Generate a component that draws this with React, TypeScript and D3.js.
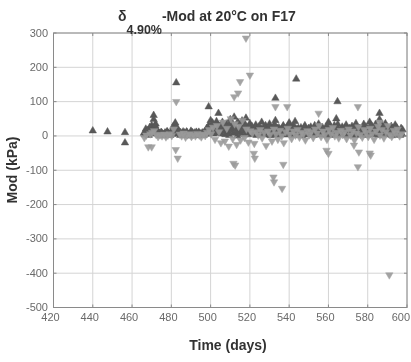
import React from "react";
import * as d3 from "d3";

// ---- Data ----
const xTicks = [420, 440, 460, 480, 500, 520, 540, 560, 580, 600];
const yTicks = [300, 200, 100, 0, -100, -200, -300, -400, -500];

// isolated early readings (dark, upward triangles)
const earlyDays = [440, 447.5, 456.4];
const earlyVals = [15, 12, 10];

// dense daily readings start at day 466
const denseStart = 466;
// dark (upward triangles), upper part of band
const darkA = [
  8, 20, 14, 25, 30, 48, 35, 12, 6, 10, 4, 8, 12, 6, 10,
  28, 38, 20, 8, 5, 12, 6, 10, 4, 14, 7, 9, 5, 11, 6, 8, 12,
  22, 30, 45, 38, 26, 42, 30, 25, 40, 18, 35, 22, 48, 30, 55, 20, 38, 26, 44, 30, 52, 24, 36,
  28, 18, 32, 22, 14, 40, 26, 30, 20, 35, 18, 28, 45, 22, 16, 20, 30, 12, 26, 38, 18, 28, 42, 20, 14, 24, 18, 30, 12, 22,
  26, 16, 30, 20, 35, 14, 24, 18, 28, 40, 22, 15, 30, 50, 20, 14, 26, 18, 32, 20, 12, 28, 24, 36, 18, 22, 14, 34, 26, 20,
  40, 28, 18, 34, 22, 48, 30, 20, 36, 24, 16, 28, 20, 32, 18, 12, 22,
];
// dark (upward triangles), lower part of band, half-day offsets
const darkB = [
  4, 10, 2, 12, 6, 18, 8, 3, 2, 6, 1, 4, 7, 2, 5,
  14, 10, 6, 2, 4, 1, 6, 3, 0, 5, 2, 4, 1, 6, 3, 2, 5,
  8, 12, 10, 6, 14, 9, 12, 6, 15, 4, 10, 2, 18, 8, 12, 0, 10, 5, 14, 3, 11, 6, 9,
  4, 8, 2, 10, 5, 12, 3, 8, 6, 1, 9, 4, 11, 2, 7, 5, 10, 3, 8, 6, 12, 2, 9, 4, 7, 1, 10, 5, 3, 8,
  6, 2, 9, 4, 11, 3, 7, 5, 1, 8, 4, 10, 2, 12, 6, 3, 9, 5, 1, 7, 4, 10, 2, 8, 6, 3, 11, 5, 2, 7,
  9, 4, 12, 6, 2, 14, 5, 8, 3, 10, 6, 1, 8, 4, 9, 2, 5,
];
// dark (upward triangles), middle of band, three-quarter-day offsets
const darkC = [
  12, 16, 8, 20, 22, 30, 18, 8, 10, 4, 9, 12, 5, 10, 7,
  22, 26, 12, 10, 7, 9, 12, 5, 8, 10, 6, 11, 8, 4, 9, 10, 7,
  16, 24, 30, 20, 34, 18, 25, 32, 20, 28, 14, 36, 24, 30, 16, 40, 22, 28, 18, 32, 20, 26, 14,
  18, 24, 14, 28, 20, 12, 22, 16, 26, 14, 20, 32, 16, 24, 10, 18, 22, 14, 30, 16, 20, 26, 12, 22, 18, 14, 24, 16, 20, 12,
  16, 22, 12, 26, 18, 24, 14, 20, 16, 30, 12, 22, 18, 34, 14, 20, 16, 24, 12, 22, 18, 14, 26, 16, 20, 12, 24, 18, 14, 22,
  30, 16, 24, 20, 14, 34, 22, 16, 26, 18, 12, 22, 16, 24, 14, 10, 18,
];
// light (downward triangles), daily
const lightA = [
  -5, 2, -32, 6, 10, 15, 4, -2, 3, 0, 5, -3, 2, 6, 1,
  20, -40, -65, 5, 0, 8, -4, 3, 6, -2, 4, 0, 7, 2, -3, 5, 1,
  10, 18, 6, 25, -10, 30, 12, -20, 40, -15, 22, -30, 50, -8, 35, -25, 28, -12, 45, -5, 20, -18, 15,
  8, -22, 12, 2, 18, -6, 10, -28, 14, 4, -15, 20, 6, -10, 16, 0, -20, 12, 22, 5, -8, 14, 2, 18, -4, 10, 6, -12, 15, 3,
  12, -5, 20, 8, 30, -2, 14, 4, -10, 18, 6, 24, 0, 10, -6, 16, 4, 12, -8, 20, 2, 14, -12, 8, 26, 4, -4, 18, 10, -2,
  22, 6, -10, 14, 28, 2, 18, -6, 12, 30, 4, -2, 16, 8, 20, 0, 6,
];

// outliers
const darkOutDays = [456.4, 471, 482.5, 499, 504, 533, 543.6, 564.6, 586];
const darkOutVals = [-20, 60, 155, 85, 66, 110, 166, 100, 66];
const lightOutDays = [
  482.5, 512, 514, 515, 518, 520, 533, 539, 555, 575, 586,
  470, 511.6, 512.5, 522, 522.5, 532, 532.3, 536.4, 537, 559, 560, 573, 575, 575.5, 581, 581.5, 591,
];
const lightOutVals = [
  100, 114, 125, 158, 285, 177, 85, 85, 66, 85, 40,
  -32, -80, -85, -51, -65, -120, -134, -153, -83, -42, -51, -27, -90, -47, -50, -56, -405,
];

const W = 411;
const H = 362;
const M = { left: 53.5, right: 407, top: 33, bottom: 307.5 };

const font = "'Liberation Sans', Arial, Helvetica, sans-serif";

export default function App() {
  const x = d3.scaleLinear().domain([420, 600]).range([M.left, M.right]);
  const y = d3.scaleLinear().domain([-500, 300]).range([M.bottom, M.top]);

  const tri = d3.symbol().type(d3.symbolTriangle).size(24)()!;

  const darkPts: [number, number][] = [];
  earlyDays.forEach((d, i) => darkPts.push([d, earlyVals[i]]));
  darkA.forEach((v, i) => darkPts.push([denseStart + i, v]));
  darkB.forEach((v, i) => darkPts.push([denseStart + i + 0.5, v]));
  darkC.forEach((v, i) => darkPts.push([denseStart + i + 0.75, v]));
  darkOutDays.forEach((d, i) => darkPts.push([d, darkOutVals[i]]));

  const lightPts: [number, number][] = [];
  lightA.forEach((v, i) => lightPts.push([denseStart + i + 0.25, v]));
  lightOutDays.forEach((d, i) => lightPts.push([d, lightOutVals[i]]));

  const lastTick = xTicks[xTicks.length - 1];

  return (
    <svg
      width={W}
      height={H}
      style={{ position: "absolute", left: 0, top: 0, background: "#fff" }}
      fontFamily={font}
    >
      <defs>
        <filter id="soft" x="-5%" y="-5%" width="110%" height="110%">
          <feGaussianBlur stdDeviation="0.5" />
        </filter>
        <clipPath id="plot">
          <rect x={M.left} y={M.top} width={M.right - M.left} height={M.bottom - M.top} />
        </clipPath>
      </defs>
      <rect x={0} y={0} width={W} height={H} fill="#fff" />
      <g filter="url(#soft)">
        {/* grid */}
        {xTicks.map((t) => (
          <line key={"gx" + t} x1={x(t)} x2={x(t)} y1={M.top} y2={M.bottom} stroke="#d4d4d4" strokeWidth={1} />
        ))}
        {yTicks.map((t) => (
          <line key={"gy" + t} x1={M.left} x2={M.right} y1={y(t)} y2={y(t)} stroke="#d4d4d4" strokeWidth={1} />
        ))}
        {/* data */}
        <g clipPath="url(#plot)">
          {darkPts.map(([d, v], i) => (
            <path key={"d" + i} d={tri} transform={`translate(${x(d)},${y(v)})`} fill="#585858" stroke="#585858" strokeWidth={0.5} />
          ))}
          {lightPts.map(([d, v], i) => (
            <path key={"l" + i} d={tri} transform={`translate(${x(d)},${y(v)}) rotate(180)`} fill="#9a9a9a" stroke="#9a9a9a" strokeWidth={0.5} opacity={0.9} />
          ))}
        </g>
        {/* frame */}
        <rect x={M.left} y={M.top} width={M.right - M.left} height={M.bottom - M.top} fill="none" stroke="#8a8a8a" strokeWidth={1} />
        {/* ticks */}
        {xTicks.map((t) => (
          <g key={"tx" + t}>
            <line x1={x(t)} x2={x(t)} y1={M.bottom} y2={M.bottom - 3} stroke="#8a8a8a" />
            <line x1={x(t)} x2={x(t)} y1={M.top} y2={M.top + 3} stroke="#8a8a8a" />
            {t === lastTick ? (
              <text x={410} y={321} textAnchor="end" fontSize={11} fill="#6a6a6a">{t}</text>
            ) : (
              <text x={x(t) - 3} y={321} textAnchor="middle" fontSize={11} fill="#6a6a6a">{t}</text>
            )}
          </g>
        ))}
        {yTicks.map((t) => (
          <g key={"ty" + t}>
            <line x1={M.left} x2={M.left + 3} y1={y(t)} y2={y(t)} stroke="#8a8a8a" />
            <line x1={M.right} x2={M.right - 3} y1={y(t)} y2={y(t)} stroke="#8a8a8a" />
            <text x={48} y={y(t) + 3.5} textAnchor="end" fontSize={11} fill="#6a6a6a">{t}</text>
          </g>
        ))}
        {/* title */}
        <text x={118} y={21} fontSize={14} fontWeight="bold" fill="#333">
          δ
          <tspan fontSize={12.5} dy={13}>4.90%</tspan>
          <tspan fontSize={14} dy={-13}>-Mod at 20°C on F17</tspan>
        </text>
        {/* axis labels */}
        <text x={228} y={350} textAnchor="middle" fontSize={14} fontWeight="bold" fill="#333">Time (days)</text>
        <text transform={`translate(17,170) rotate(-90)`} textAnchor="middle" fontSize={14} fontWeight="bold" fill="#333">Mod (kPa)</text>
      </g>
    </svg>
  );
}
